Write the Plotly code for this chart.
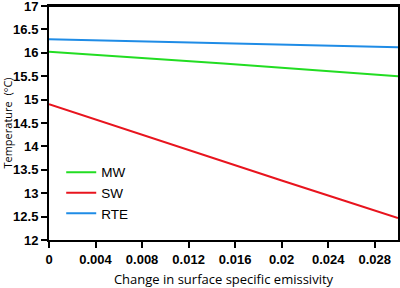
import plotly.graph_objects as go

emissivity = [0.0, 0.005, 0.01, 0.015, 0.02, 0.025, 0.03]
mw = [16.02, 15.94, 15.85, 15.77, 15.68, 15.59, 15.50]
sw = [14.90, 14.49, 14.08, 13.68, 13.27, 12.87, 12.47]
rte = [16.29, 16.26, 16.23, 16.20, 16.17, 16.14, 16.12]

x_ticks = [0, 0.004, 0.008, 0.012, 0.016, 0.02, 0.024, 0.028]
x_labels = ["0", "0.004", "0.008", "0.012", "0.016", "0.02", "0.024", "0.028"]
y_ticks = [12, 12.5, 13, 13.5, 14, 14.5, 15, 15.5, 16, 16.5, 17]
y_labels = ["12", "12.5", "13", "13.5", "14", "14.5", "15", "15.5", "16", "16.5", "17"]

fig = go.Figure()
for name, vals, col in [("MW", mw, "#22dd22"), ("SW", sw, "#e8141e"), ("RTE", rte, "#1f8ce6")]:
    fig.add_trace(go.Scatter(x=emissivity, y=vals, mode="lines", name=name,
                             line=dict(color=col, width=2)))

fig.update_layout(
    width=400, height=288,
    margin=dict(l=49, r=2, t=6, b=48, autoexpand=False),
    paper_bgcolor="white", plot_bgcolor="white",
    showlegend=True,
    legend=dict(x=0.035, y=0.355, xanchor="left", yanchor="top",
                font=dict(family="Liberation Sans", size=13.5, color="black"),
                bgcolor="rgba(0,0,0,0)", tracegroupgap=0),
    xaxis=dict(range=[0, 0.03], tickvals=x_ticks, ticktext=x_labels, automargin=False,
               showline=True, linecolor="black", linewidth=2, mirror=True,
               ticks="outside", ticklen=6, tickwidth=1.5, tickcolor="black",
               showgrid=False, zeroline=False,
               ticklabeloverflow="allow",
               tickfont=dict(family="Liberation Sans", size=13, color="black", weight="bold"),
               title=dict(text="Change in surface specific emissivity",
                          font=dict(family="Open Sans", size=13, color="black"), standoff=10)),
    yaxis=dict(range=[12, 17], tickvals=y_ticks, ticktext=y_labels, automargin=False,
               showline=True, linecolor="black", linewidth=2, mirror=True,
               ticks="outside", ticklen=6, tickwidth=1.5, tickcolor="black",
               showgrid=False, zeroline=False, ticklabeloverflow="allow",
               tickfont=dict(family="Liberation Sans", size=13, color="black", weight="bold"),
               title=dict(text="Temperature  (°C)",
                          font=dict(family="Open Sans", size=11, color="black"), standoff=5)),
    shapes=[dict(type="line", xref="paper", yref="paper", x0=0, x1=1, y0=1, y1=1,
                 line=dict(color="black", width=2), layer="above")],
)

fig.write_html("out.html", config={"displayModeBar": False},
               post_script="document.body.style.margin='0';")
